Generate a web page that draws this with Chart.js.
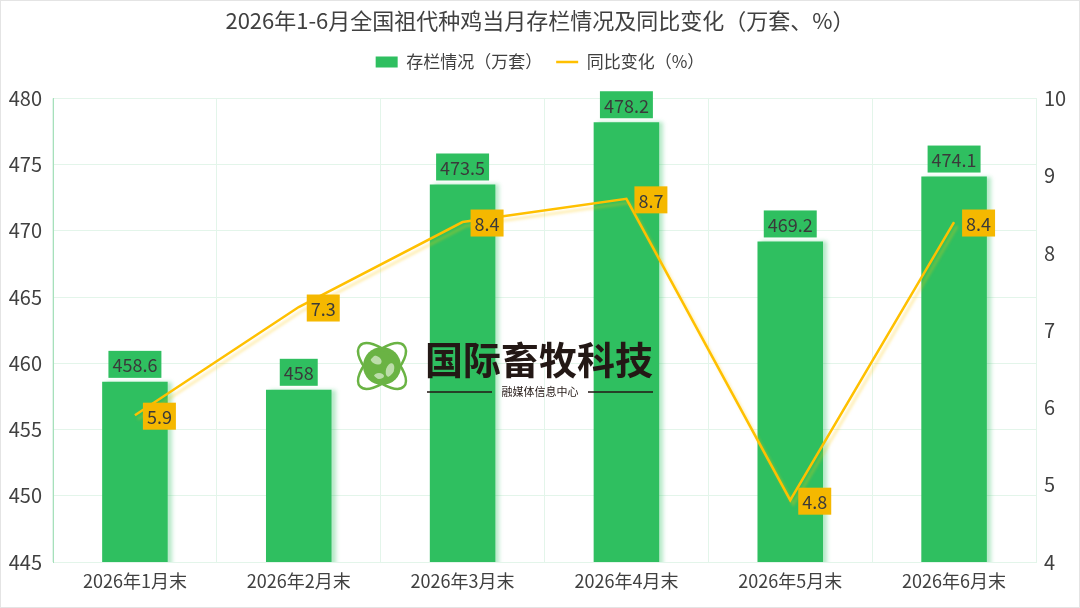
<!DOCTYPE html>
<html><head><meta charset="utf-8">
<script src="https://cdn.jsdelivr.net/npm/chart.js@4.4.1/dist/chart.umd.min.js"></script>
<style>
html,body{margin:0;padding:0;background:#fff;}
#wrap{width:1080px;height:608px;position:relative;}
canvas{display:block;}
</style></head><body>
<div id="wrap"><canvas id="c" width="1080" height="608"></canvas></div>
<script>
const categories = ['2026年1月末','2026年2月末','2026年3月末','2026年4月末','2026年5月末','2026年6月末'];
const stockValues = [458.6, 458, 473.5, 478.2, 469.2, 474.1];
const yoyValues = [5.9, 7.3, 8.4, 8.7, 4.8, 8.4];
const titleText = '2026年1-6月全国祖代种鸡当月存栏情况及同比变化（万套、%）';
const seriesNames = ['存栏情况（万套）','同比变化（%）'];

const FONT = '"Noto Sans CJK SC", "Noto Sans", sans-serif';
const GREEN = '#2fbf60';
const YELLOW = '#ffc000';
const LABEL_Y = '#f5b800';

const legendMargin = {
  id:'legendMargin',
  beforeInit(chart){
    const lg = chart.legend;
    const f = lg.fit;
    lg.fit = function(){ f.call(this); this.height += 18; };
  }
};

const shadowPlugin = {
  id:'shadows',
  beforeDatasetDraw(chart, args){
    const ctx = chart.ctx; ctx.save();
    if (args.index === 0){
      ctx.shadowColor='rgba(47,191,96,0.35)'; ctx.shadowOffsetX=4; ctx.shadowOffsetY=0; ctx.shadowBlur=4;
    } else {
      ctx.shadowColor='rgba(255,200,0,0.35)'; ctx.shadowOffsetX=3; ctx.shadowOffsetY=4; ctx.shadowBlur=3;
    }
  },
  afterDatasetDraw(chart){ chart.ctx.restore(); }
};

const labelPlugin = {
  id:'labels',
  afterDatasetsDraw(chart){
    const ctx = chart.ctx;
    ctx.save();
    ctx.font = '18px ' + FONT;
    ctx.textBaseline='middle';
    chart.getDatasetMeta(0).data.forEach((el,i)=>{
      const t = String(stockValues[i]);
      const w = ctx.measureText(t).width + 8;
      const h = 27;
      const x = el.x - w/2, y = el.y - 4 - h;
      ctx.fillStyle = GREEN; ctx.fillRect(x,y,w,h);
      ctx.fillStyle = '#3a3a3a'; ctx.textAlign='center';
      ctx.fillText(t, el.x, y + h/2 + 1);
    });
    chart.getDatasetMeta(1).data.forEach((el,i)=>{
      const t = String(yoyValues[i]);
      const w = ctx.measureText(t).width + 8;
      const h = 27;
      const x = el.x + 8, y = el.y - h/2 + 1;
      ctx.fillStyle = LABEL_Y; ctx.fillRect(x,y,w,h);
      ctx.fillStyle = '#3a3a3a'; ctx.textAlign='center';
      ctx.fillText(t, x + w/2, y + h/2 + 1);
    });
    ctx.restore();
  }
};

const watermarkPlugin = {
  id:'watermark',
  afterDraw(chart){
    const ctx = chart.ctx;
    ctx.save();
    const cx=382, cy=366;
    ctx.fillStyle='#6ab344';
    ctx.beginPath(); ctx.arc(cx,cy,19,0,Math.PI*2); ctx.fill();
    ctx.fillStyle='rgba(255,255,255,0.55)';
    ctx.beginPath(); ctx.ellipse(cx-6,cy-6,6,4,0.5,0,Math.PI*2); ctx.fill();
    ctx.beginPath(); ctx.ellipse(cx+8,cy+4,4,7,0.3,0,Math.PI*2); ctx.fill();
    ctx.beginPath(); ctx.ellipse(cx-3,cy+10,5,3,0,0,Math.PI*2); ctx.fill();
    ctx.strokeStyle='#6ab344'; ctx.lineWidth=2.5;
    ctx.beginPath(); ctx.ellipse(cx,cy,30,14,-0.75,0,Math.PI*2); ctx.stroke();
    ctx.beginPath(); ctx.ellipse(cx,cy,30,14,0.75,0,Math.PI*2); ctx.stroke();
    ctx.fillStyle='#231815';
    ctx.font='bold 38px ' + FONT;
    ctx.textAlign='left'; ctx.textBaseline='middle';
    ctx.fillText('国际畜牧科技', 425, 360);
    ctx.font='11px ' + FONT;
    ctx.textAlign='center';
    ctx.fillText('融媒体信息中心', 540, 392);
    ctx.strokeStyle='#231815'; ctx.lineWidth=1.5;
    ctx.beginPath(); ctx.moveTo(427,392); ctx.lineTo(492,392); ctx.moveTo(588,392); ctx.lineTo(653,392); ctx.stroke();
    ctx.strokeStyle='#e4e4e4'; ctx.lineWidth=1;
    ctx.strokeRect(0.5,0.5,1079,607);
    ctx.restore();
  }
};

new Chart(document.getElementById('c'), {
  data:{
    labels: categories,
    datasets:[
      {type:'bar', label:seriesNames[0], data:stockValues, yAxisID:'y', backgroundColor:GREEN,
       barPercentage:0.4, categoryPercentage:1, order:2, pointStyle:'rect'},
      {type:'line', label:seriesNames[1], data:yoyValues, yAxisID:'y1', borderColor:YELLOW, backgroundColor:YELLOW,
       borderWidth:2.5, pointRadius:0, pointHoverRadius:0, tension:0, order:1, pointStyle:'line'}
    ]
  },
  options:{
    responsive:false, animation:false, devicePixelRatio:1,
    layout:{padding:{top:4,left:0,right:0,bottom:0}},
    plugins:{
      title:{display:true, text:titleText, color:'#404040', font:{family:FONT,size:22,weight:'normal'}, padding:{top:3,bottom:6}},
      legend:{display:true,
        labels:{usePointStyle:true, pointStyleWidth:22, boxHeight:11, color:'#404040', font:{family:FONT,size:17}, padding:14,
          sort:(a,b)=>a.datasetIndex-b.datasetIndex}},
      tooltip:{enabled:false}
    },
    scales:{
      x:{offset:true, grid:{color:'#e3f5ea', offset:true, drawTicks:false}, border:{color:'#e3f5ea'},
         ticks:{color:'#404040', font:{family:FONT,size:18}, padding:8},
         afterFit(s){ s.height = 46; }},
      y:{position:'left', min:445, max:480, grid:{color:'#e3f5ea', drawTicks:false}, border:{color:'#a6e0bb'},
         ticks:{stepSize:5, color:'#404040', font:{family:FONT,size:20}, padding:11},
         afterFit(s){ s.width = 53; }},
      y1:{position:'right', min:4, max:10, grid:{display:false, drawTicks:false}, border:{color:'#e3f5ea'},
         ticks:{stepSize:1, color:'#404040', font:{family:FONT,size:20}, padding:8},
         afterFit(s){ s.width = 44; }}
    }
  },
  plugins:[legendMargin, shadowPlugin, labelPlugin, watermarkPlugin]
});
</script>
</body></html>
